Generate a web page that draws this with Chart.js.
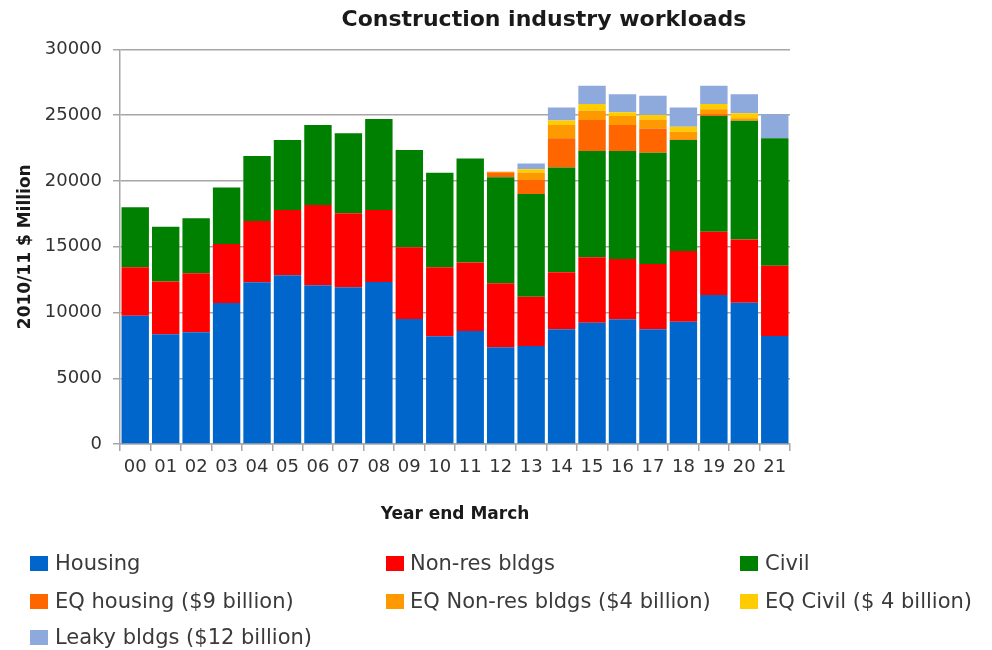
<!DOCTYPE html>
<html><head><meta charset="utf-8">
<script src="https://cdn.jsdelivr.net/npm/chart.js@4"></script>
<style>
html,body{margin:0;padding:0;background:#fff;}
#wrap{position:relative;width:992px;height:650px;overflow:hidden;}
#c{position:absolute;left:0;top:0;}
#legend{position:absolute;left:0;top:0;width:992px;height:650px;pointer-events:none;font-family:"DejaVu Sans",sans-serif;font-size:21px;color:#3a3a3a;}
.item{position:absolute;height:24px;line-height:24px;white-space:nowrap;}
.box{position:absolute;width:18px;height:15px;}
</style></head><body>
<div id="wrap"><canvas id="c" width="992" height="650"></canvas><div id="legend"></div></div>
<script>
const categories = ["00","01","02","03","04","05","06","07","08","09","10","11","12","13","14","15","16","17","18","19","20","21"];
const housing   = [9750,8350,8500,10730,12300,12830,12070,11920,12320,9500,8200,8600,7350,7450,8720,9230,9480,8720,9300,11330,10750,8210];
const nonRes    = [3700,4000,4480,4480,4660,4970,6110,5620,5480,5460,5240,5210,4870,3750,4340,4970,4590,4970,5380,4820,4810,5340];
const civil     = [4560,4180,4180,4290,4940,5320,6080,6090,6920,7400,7190,7910,8060,7810,7960,8080,8210,8460,8440,8800,9030,9700];
const eqHousing = [0,0,0,0,0,0,0,0,0,0,0,0,330,1060,2230,2360,1980,1850,50,120,0,0];
const eqNonRes  = [0,0,0,0,0,0,0,0,0,0,0,0,100,555,1015,710,685,685,580,380,180,0];
const eqCivil   = [0,0,0,0,0,0,0,0,0,0,0,0,0,260,330,510,280,330,380,400,380,0];
const leaky     = [0,0,0,0,0,0,0,0,0,0,0,0,0,455,990,1390,1370,1470,1450,1400,1450,1800];
const yTicks = [0,5000,10000,15000,20000,25000,30000];

const seriesLabels = ["Housing","Non-res bldgs","Civil","EQ housing ($9 billion)","EQ Non-res bldgs ($4 billion)","EQ Civil ($ 4 billion)","Leaky bldgs ($12 billion)"];
const seriesColors = ["#0066CC","#FF0000","#008000","#FF6600","#FF9900","#FFCC00","#8EA9DB"];
const seriesData = [housing,nonRes,civil,eqHousing,eqNonRes,eqCivil,leaky];

const gridColor = "#a6a6a6";
const textColor = "#333333";

const titlePos = {
  id:'titlePos',
  afterLayout(chart){
    if (chart.titleBlock){ chart.titleBlock.left = 300; chart.titleBlock.right = 788; }
  }
};

const chart = new Chart(document.getElementById('c'), {
  type:'bar',
  data:{
    labels: categories,
    datasets: seriesData.map((d,i)=>({
      label: seriesLabels[i], data: d, backgroundColor: seriesColors[i],
      borderWidth:0, barPercentage:0.9, categoryPercentage:1.0, stack:'s'
    }))
  },
  options:{
    responsive:false, animation:false,
    layout:{padding:{left:0,right:202,top:0,bottom:120}},
    plugins:{
      legend:{display:false},
      tooltip:{enabled:false},
      title:{display:true, text:"Construction industry workloads", color:"#1a1a1a",
        font:{family:"DejaVu Sans", size:22, weight:'bold'}, padding:{top:7,bottom:16.1}}
    },
    scales:{
      x:{
        stacked:true,
        grid:{offset:true, drawOnChartArea:false, drawTicks:true, tickLength:7, color:gridColor, lineWidth:1.5},
        border:{display:true, color:gridColor, width:1.5},
        ticks:{color:textColor, font:{family:"DejaVu Sans", size:18}, autoSkip:false, maxRotation:0, minRotation:0, padding:6},
        title:{display:true, text:"Year end March", color:"#1a1a1a", font:{family:"DejaVu Sans", size:17, weight:'bold'}, padding:{top:4,bottom:5}},
        afterFit(s){ s.height = 86; }
      },
      y:{
        stacked:true, min:0, max:30000,
        afterBuildTicks(s){ s.ticks = yTicks.map(v=>({value:v})); },
        grid:{color:gridColor, lineWidth:1.5, tickLength:7, drawTicks:true},
        border:{display:true, color:gridColor, width:1.5},
        ticks:{color:textColor, font:{family:"DejaVu Sans", size:18}, padding:11, callback:v=>String(v)},
        title:{display:true, text:"2010/11 $ Million", color:"#1a1a1a", font:{family:"DejaVu Sans", size:17, weight:'bold'}, padding:{top:15,bottom:4}},
        afterFit(s){ s.width = 120; }
      }
    }
  },
  plugins:[titlePos]
});

// HTML legend in a 3-column grid, built from the chart's datasets
const legendEl = document.getElementById('legend');
const colBox = [30,386,740], colText = [55,410,765], rowY = [563,601,637];
chart.data.datasets.forEach((ds,i)=>{
  const col = i%3, row = Math.floor(i/3);
  const b = document.createElement('div');
  b.className='box'; b.style.left=colBox[col]+'px'; b.style.top=(rowY[row]-7.5)+'px'; b.style.background=ds.backgroundColor;
  const t = document.createElement('div');
  t.className='item'; t.style.left=colText[col]+'px'; t.style.top=(rowY[row]-12)+'px'; t.textContent=ds.label;
  legendEl.appendChild(b); legendEl.appendChild(t);
});
</script>
</body></html>
